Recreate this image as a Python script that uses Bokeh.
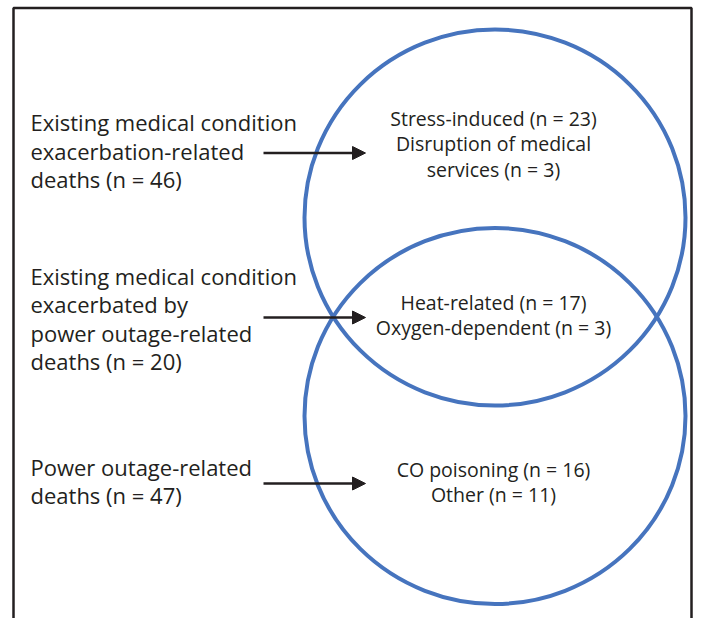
from bokeh.plotting import figure
from bokeh.models import Range1d, Arrow, NormalHead
from bokeh.core.properties import value
from bokeh.embed import file_html
from bokeh.resources import INLINE

# ---- data ----
group_counts = [46, 20, 47]
group_label_lines = [
    ["Existing medical condition", "exacerbation-related", "deaths (n = {})"],
    ["Existing medical condition", "exacerbated by", "power outage-related", "deaths (n = {})"],
    ["Power outage-related", "deaths (n = {})"],
]
sub_label_lines = [
    ["Stress-induced (n = {})", "Disruption of medical", "services (n = {})"],
    ["Heat-related (n = {})", "Oxygen-dependent (n = {})"],
    ["CO poisoning (n = {})", "Other (n = {})"],
]
sub_counts = [[23, 3], [17, 3], [16, 11]]

# ---- layout (pixel coordinates of the picture) ----
W, H = 693, 618
FONT = "Open Sans"
TXT = "#231f20"
BLUE = "#4674be"

p = figure(width=W, height=H, output_backend="svg", toolbar_location=None,
           x_range=Range1d(0, W), y_range=Range1d(H, 0),
           min_border=0, outline_line_color=None)
p.axis.visible = False
p.grid.visible = False
p.background_fill_color = "white"
p.border_fill_color = "white"

# frame
p.line(x=[13, 13, 691, 691], y=[660, 7.5, 7.5, 660], line_color=TXT, line_width=2.5)

# circles
p.ellipse(x=[494.5, 494.5], y=[217, 415.5], width=381, height=376,
          fill_color=None, line_color=BLUE, line_width=4)

# left labels
left_first_y = [121.5, 275, 466]
left_step = 28.5
xs, ys, ts = [], [], []
for g, lines in enumerate(group_label_lines):
    for i, ln in enumerate(lines):
        xs.append(30)
        ys.append(left_first_y[g] + i * left_step)
        ts.append(ln.format(group_counts[g]) if "{}" in ln else ln)
p.text(x=xs, y=ys, text=ts, text_font=value(FONT), text_font_size="22px",
       text_color=TXT, text_align="left", text_baseline="middle")

# center labels
center_first_y = [117.5, 301.5, 468.5]
center_step = 25.5
xs, ys, ts = [], [], []
for g, lines in enumerate(sub_label_lines):
    k = 0
    for i, ln in enumerate(lines):
        if "{}" in ln:
            ln = ln.format(sub_counts[g][k])
            k += 1
        xs.append(493)
        ys.append(center_first_y[g] + i * center_step)
        ts.append(ln)
p.text(x=xs, y=ys, text=ts, text_font=value(FONT), text_font_size="19.5px",
       text_color=TXT, text_align="center", text_baseline="middle")

# arrows
arrow_y = [152.5, 317, 483]
for yy in arrow_y:
    p.add_layout(Arrow(end=NormalHead(size=13, fill_color=TXT, line_color=TXT, line_width=1),
                       x_start=263, y_start=yy, x_end=365, y_end=yy,
                       line_color=TXT, line_width=2.5))

open("out.html", "w").write(file_html(p, INLINE))
